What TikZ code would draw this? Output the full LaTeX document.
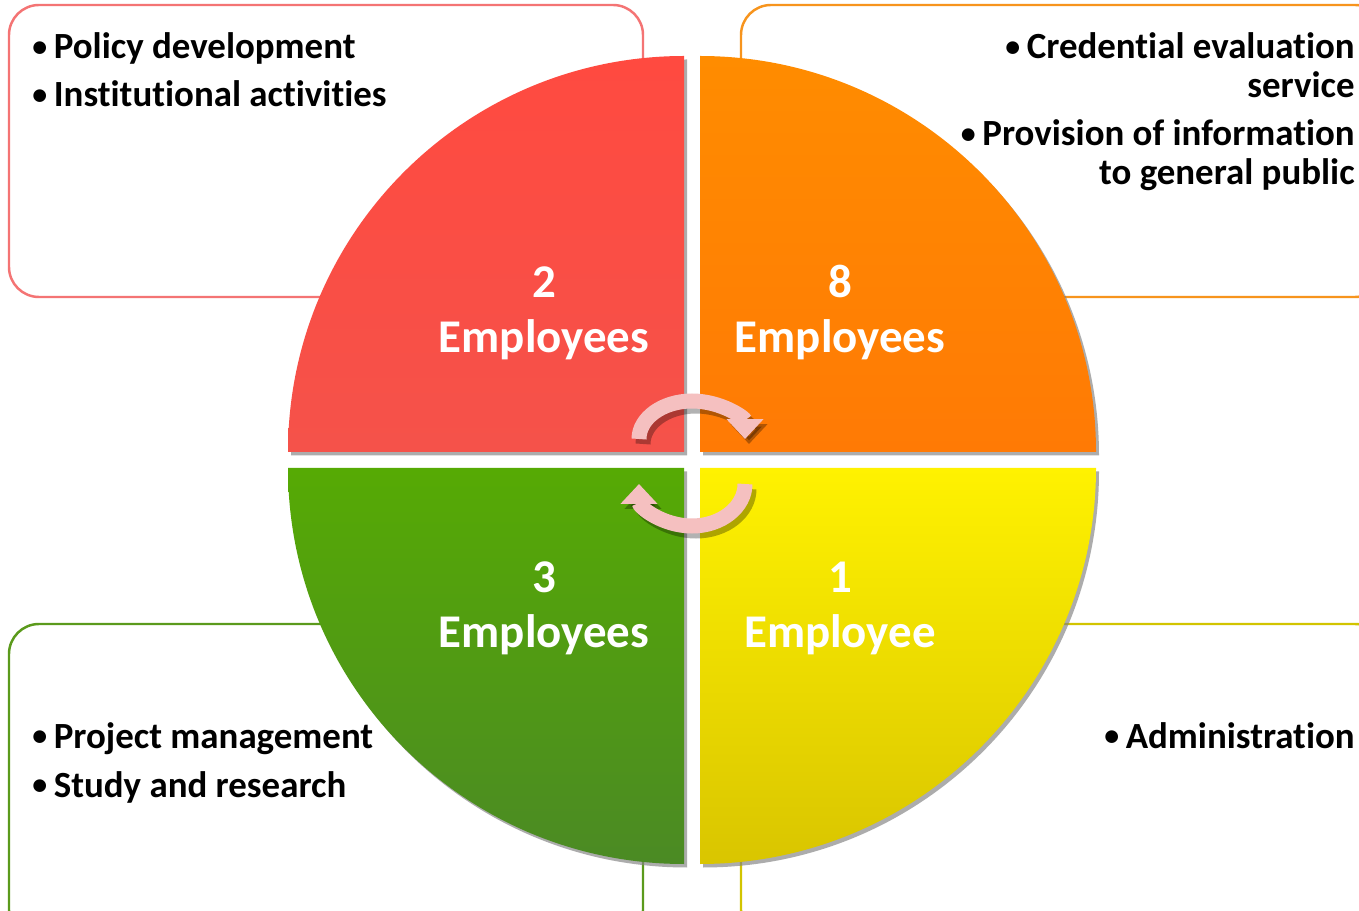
\documentclass[tikz,border=0pt]{standalone}
\usepackage{fontspec}
\setmainfont{Carlito}[Ligatures=NoCommon]
\usetikzlibrary{arrows.meta,shadows}

\definecolor{redtop}{HTML}{FF4A40}
\definecolor{redbot}{HTML}{F5524A}
\definecolor{orangetop}{HTML}{FF8C00}
\definecolor{orangebot}{HTML}{FF7A05}
\definecolor{greentop}{HTML}{56AA04}
\definecolor{greenbot}{HTML}{4B8A24}
\definecolor{yellowtop}{HTML}{FFF200}
\definecolor{yellowbot}{HTML}{D9C500}
\definecolor{redline}{HTML}{F47474}
\definecolor{orangeline}{HTML}{F7941D}
\definecolor{greenline}{HTML}{5B9A1C}
\definecolor{yellowline}{HTML}{D2C400}
\definecolor{arrowpink}{HTML}{F5C0C0}

\newcommand{\bul}{\makebox[0.43cm][l]{\raisebox{0.06em}{\fontsize{17}{17}\selectfont •}}}

\tikzset{
  quarter/.style={drop shadow={shadow xshift=0.06cm,shadow yshift=-0.07cm,opacity=0.65}},
  infobox/.style={rounded corners=0.6cm, line width=1.4pt},
  cycarrow/.style={line width=0.3cm, draw=arrowpink, -{Triangle[width=0.72cm,length=0.4cm]}},
  arrowshade/.style={line width=0.3cm, draw=black, opacity=0.3, -{Triangle[width=0.72cm,length=0.4cm]}},
}

\begin{document}
\begin{tikzpicture}[x=0.02cm,y=-0.02cm]
    \useasboundingbox (0,0) rectangle (1359,911);
    \fill[white] (0,0) rectangle (1359,911);

    % boxes behind the circle
    \draw[infobox, draw=redline] (9,5) rectangle (643,297);
    \draw[infobox, draw=orangeline] (741,5) rectangle (1385,297);
    \draw[infobox, draw=greenline] (9,624) rectangle (643,940);
    \draw[infobox, draw=yellowline] (741,624) rectangle (1385,940);

    % the four quarters
    \shade[quarter, top color=redtop, bottom color=redbot]
        (684,452) -- ++(-396,0) arc[start angle=180, end angle=270, radius=396] -- cycle;
    \shade[quarter, top color=orangetop, bottom color=orangebot]
        (700,452) -- ++(0,-396) arc[start angle=270, end angle=360, radius=396] -- cycle;
    \shade[quarter, top color=yellowtop, bottom color=yellowbot]
        (700,468) -- ++(396,0) arc[start angle=0, end angle=90, radius=396] -- cycle;
    \shade[quarter, top color=greentop, bottom color=greenbot]
        (684,468) -- ++(0,396) arc[start angle=90, end angle=180, radius=396] -- cycle;

    % cycle arrows
    \coordinate (topstart) at (639,439);
    \coordinate (botstart) at (745,484);
    \draw[arrowshade] ([shift={(4,5)}]topstart) arc[start angle=180, end angle=360, x radius=53, y radius=38];
    \draw[arrowshade] ([shift={(4,5)}]botstart) arc[start angle=0, end angle=180, x radius=53, y radius=42];
    \draw[cycarrow] (topstart) arc[start angle=180, end angle=360, x radius=53, y radius=38];
    \draw[cycarrow] (botstart) arc[start angle=0, end angle=180, x radius=53, y radius=42];

    % staff counts
    \begin{scope}[every node/.style={text=white, font=\bfseries\fontsize{26.7}{31}\selectfont, anchor=base, inner sep=0pt}]
        \node (num2) at (544,298) {2};
        \node (emp2) at (544,353) {Employees};
        \node (num8) at (840,298) {8};
        \node (emp8) at (840,353) {Employees};
        \node (num3) at (544,593) {3};
        \node (emp3) at (544,648) {Employees};
        \node (num1) at (840,593) {1};
        \node (emp1) at (840,648) {Employee};
    \end{scope}

    % tasks
    \begin{scope}[every node/.style={font=\bfseries\fontsize{21}{24}\selectfont, inner sep=0pt}]
        \node[anchor=base west] (policy) at (32,59) {\bul Policy development};
        \node[anchor=base west] (inst) at (32,107) {\bul Institutional activities};
        \node[anchor=base east] (cred) at (1355,59) {\bul Credential evaluation};
        \node[anchor=base east] (serv) at (1355,98) {service};
        \node[anchor=base east] (prov) at (1355,146) {\bul Provision of information};
        \node[anchor=base east] (pub) at (1355,185) {to general public};
        \node[anchor=base west] (proj) at (32,748) {\bul Project management};
        \node[anchor=base west] (study) at (32,797) {\bul Study and research};
        \node[anchor=base east] (admin) at (1355,748) {\bul Administration};
    \end{scope}
\end{tikzpicture}
\end{document}
